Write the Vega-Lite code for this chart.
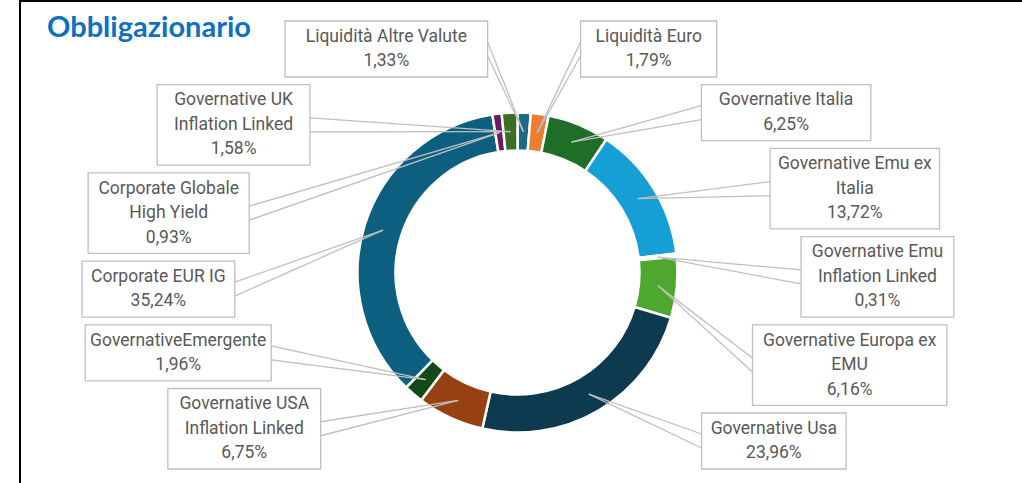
{
  "$schema": "https://vega.github.io/schema/vega-lite/v6.json",
  "width": 1002,
  "height": 482,
  "autosize": "none",
  "padding": {"left": 20, "top": 1, "right": 0, "bottom": 0},
  "background": "white",
  "title": {
    "text": "Obbligazionario",
    "anchor": "start",
    "frame": "group",
    "orient": "top",
    "offset": -33,
    "dx": 27,
    "dy": 32,
    "baseline": "alphabetic",
    "font": "Lato",
    "fontSize": 29,
    "fontWeight": "bold",
    "color": "#0e70c0"
  },
  "data": {
    "values": [
      {"name": "Liquidità Altre Valute", "value": 1.33},
      {"name": "Liquidità Euro", "value": 1.79},
      {"name": "Governative Italia", "value": 6.25},
      {"name": "Governative Emu ex\nItalia", "value": 13.72},
      {"name": "Governative Emu\nInflation Linked", "value": 0.31},
      {"name": "Governative Europa ex\nEMU", "value": 6.16},
      {"name": "Governative Usa", "value": 23.96},
      {"name": "Governative USA\nInflation Linked", "value": 6.75},
      {"name": "GovernativeEmergente", "value": 1.96},
      {"name": "Corporate EUR IG", "value": 35.24},
      {"name": "Corporate Globale\nHigh Yield", "value": 0.93},
      {"name": "Governative UK\nInflation Linked", "value": 1.58}
    ]
  },
  "transform": [
    {"window": [{"op": "row_number", "as": "i"}]},
    {"joinaggregate": [{"op": "sum", "field": "value", "as": "total"}]},
    {"window": [{"op": "sum", "field": "value", "as": "cum"}], "sort": [{"field": "i"}], "frame": [null, 0]},
    {"calculate": "2*PI*(datum.cum - datum.value/2)/datum.total", "as": "mid"},
    {"calculate": "141*sin(datum.mid)", "as": "tx"},
    {"calculate": "-141*cos(datum.mid)", "as": "ty"},
    {"calculate": "sin(datum.mid) > 0.1 ? 'R' : 'L'", "as": "side"},
    {"calculate": "-cos(datum.mid)", "as": "vk"},
    {"calculate": "split(datum.name, '\\n')", "as": "lines"},
    {"calculate": "length(datum.lines) + 1", "as": "nl"},
    {"calculate": "datum.nl*24.5 + 7", "as": "h"},
    {"calculate": "max(length(datum.lines[0]), length(datum.lines[1] || ''), 6)", "as": "mc"},
    {"calculate": "datum.mc*8.3 + 20", "as": "w"},
    {"joinaggregate": [{"op": "sum", "field": "h", "as": "sumH"}, {"op": "count", "field": "h", "as": "cnt"}], "groupby": ["side"]},
    {"window": [{"op": "sum", "field": "h", "as": "cumH"}, {"op": "row_number", "as": "r"}], "sort": [{"field": "vk"}], "groupby": ["side"], "frame": [null, 0]},
    {"calculate": "(448 - datum.sumH)/(datum.cnt - 1)", "as": "gap"},
    {"calculate": "-251.5 + datum.cumH - datum.h/2 + (datum.r - 1)*datum.gap", "as": "yc"},
    {"calculate": "(datum.side == 'R' ? 1 : -1) * 360 * sqrt(max(0, 1 - pow(datum.yc/240, 2)))", "as": "xc"},
    {"calculate": "datum.yc - (datum.nl - 1)*12.25", "as": "yt"},
    {"calculate": "datum.xc - datum.w/2", "as": "bx1"},
    {"calculate": "datum.xc + datum.w/2", "as": "bx2"},
    {"calculate": "datum.yc - datum.h/2", "as": "by1"},
    {"calculate": "datum.yc + datum.h/2", "as": "by2"},
    {"calculate": "datum.side == 'R' ? datum.bx1 : datum.bx2", "as": "ex"},
    {"calculate": "datum.yc - 7", "as": "eyA"},
    {"calculate": "datum.yc + 7", "as": "eyB"},
    {"calculate": "datum.name + '\\n' + replace(format(datum.value, '.2f'), '.', ',') + '%'", "as": "label"}
  ],
  "layer": [
    {
      "mark": {"type": "arc", "innerRadius": 122, "outerRadius": 160, "stroke": "white", "strokeWidth": 2.5, "x": {"expr": "scale('x', 0)"}, "y": {"expr": "scale('y', 0)"}},
      "encoding": {
        "theta": {"field": "value", "type": "quantitative", "stack": true},
        "order": {"field": "i", "type": "quantitative"},
        "color": {
          "field": "name",
          "type": "nominal",
          "legend": null,
          "scale": {
            "domain": ["Liquidità Altre Valute", "Liquidità Euro", "Governative Italia", "Governative Emu ex\nItalia", "Governative Emu\nInflation Linked", "Governative Europa ex\nEMU", "Governative Usa", "Governative USA\nInflation Linked", "GovernativeEmergente", "Corporate EUR IG", "Corporate Globale\nHigh Yield", "Governative UK\nInflation Linked"],
            "range": ["#1c6a8a", "#ed7d31", "#1e6e27", "#159fd5", "#e8e8e8", "#4ea72e", "#0e3a50", "#974011", "#134a17", "#0d5f80", "#6b1a5e", "#3a6e24"]
          }
        }
      }
    },
    {
      "mark": {"type": "rule", "color": "#bfbfbf", "strokeWidth": 1.3},
      "encoding": {
        "x": {"field": "tx", "type": "quantitative", "axis": null, "scale": {"domain": [-497.5, 504.5], "nice": false, "zero": false}},
        "y": {"field": "ty", "type": "quantitative", "axis": null, "scale": {"domain": [-271.5, 210.5], "reverse": true, "nice": false, "zero": false}},
        "x2": {"field": "ex"},
        "y2": {"field": "eyA"}
      }
    },
    {
      "mark": {"type": "rule", "color": "#bfbfbf", "strokeWidth": 1.3},
      "encoding": {
        "x": {"field": "tx", "type": "quantitative"},
        "y": {"field": "ty", "type": "quantitative"},
        "x2": {"field": "ex"},
        "y2": {"field": "eyB"}
      }
    },
    {
      "mark": {"type": "rect", "fill": "white", "stroke": "#bfbfbf", "strokeWidth": 1.3},
      "encoding": {
        "x": {"field": "bx1", "type": "quantitative"},
        "x2": {"field": "bx2"},
        "y": {"field": "by1", "type": "quantitative"},
        "y2": {"field": "by2"}
      }
    },
    {
      "mark": {"type": "text", "font": "Roboto", "fontSize": 17.5, "color": "#595959", "lineBreak": "\n", "lineHeight": 24.5, "align": "center", "baseline": "middle"},
      "encoding": {
        "x": {"field": "xc", "type": "quantitative"},
        "y": {"field": "yt", "type": "quantitative"},
        "text": {"field": "label"}
      }
    }
  ],
  "config": {
    "view": {"stroke": "#000000", "strokeWidth": 2, "strokeDash": [1002, 1484, 484, 0]}
  }
}
